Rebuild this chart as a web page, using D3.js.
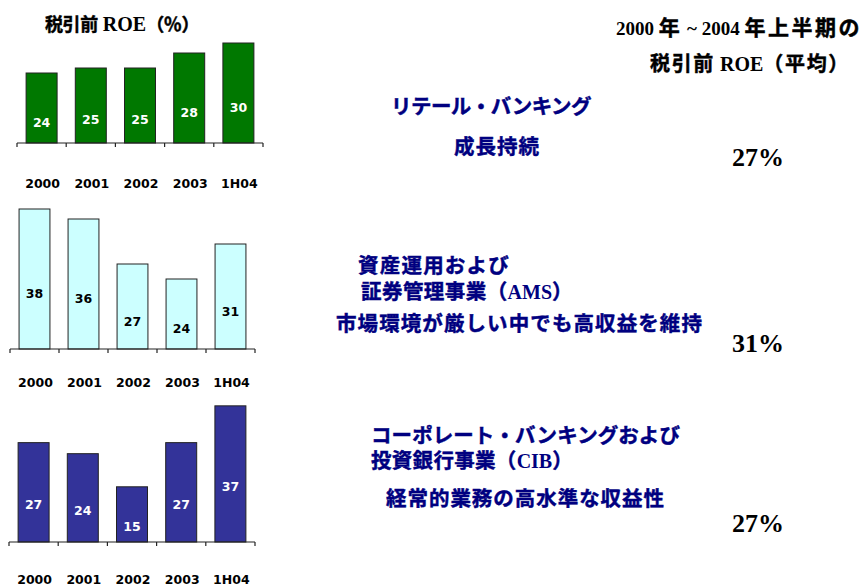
<!DOCTYPE html>
<html>
<head>
<meta charset="utf-8">
<script src="https://cdn.jsdelivr.net/npm/d3@7"></script>
<style>
  body { margin: 0; background: #fff; }
  svg { display: block; }
  .num { font-family: "DejaVu Sans", Verdana, sans-serif; font-weight: bold; }
  .cjk { font-family: "Noto Sans CJK JP", sans-serif; font-weight: bold; }
  .lat { font-family: "Liberation Serif", "Times New Roman", serif; font-weight: bold; }
</style>
</head>
<body>
<svg id="chart" width="864" height="585"></svg>
<script>
// data
var categories = ["2000", "2001", "2002", "2003", "1H04"];
var retailRoe = [24, 25, 25, 28, 30];
var amsRoe = [38, 36, 27, 24, 31];
var cibRoe = [27, 24, 15, 27, 37];
var averageRoe = ["27%", "31%", "27%"];

var chartTitle = "税引前 ROE（％）";
var headerLines = ["2000 年 ~ 2004 年上半期の", "税引前 ROE（平均）"];
var retailText = ["リテール・バンキング", "成長持続"];
var amsText = ["資産運用および", "証券管理事業（AMS）", "市場環境が厳しい中でも高収益を維持"];
var cibText = ["コーポレート・バンキングおよび", "投資銀行事業（CIB）", "経常的業務の高水準な収益性"];

var svg = d3.select("#chart");

// one small bar panel per business line
var panels = [
  {values: retailRoe, x0: 17, x1: 263, axisY: 143, yMin: 10, ppu: 5, fill: "#007800", labelColor: "#fff", catY: 183, labelBase: 171},
  {values: amsRoe, x0: 10, x1: 255, axisY: 349, yMin: 10, ppu: 5, fill: "#ccffff", labelColor: "#000", catY: 382, labelBase: 378},
  {values: cibRoe, x0: 9, x1: 255, axisY: 542, yMin: 0, ppu: 3.68, fill: "#333399", labelColor: "#fff", catY: 579, labelBase: 567}
];

panels.forEach(function(p) {
  var x = d3.scaleBand()
    .domain(categories)
    .range([p.x0, p.x1])
    .paddingInner(0.37)
    .paddingOuter(0.185);
  var y = d3.scaleLinear()
    .domain([p.yMin, 40])
    .range([p.axisY, p.axisY - (40 - p.yMin) * p.ppu]);

  var rows = categories.map(function(c, i) { return {cat: c, v: p.values[i]}; });
  var g = svg.append("g");

  g.selectAll("rect")
    .data(rows)
    .enter().append("rect")
    .attr("x", function(d) { return x(d.cat); })
    .attr("y", function(d) { return y(d.v); })
    .attr("width", x.bandwidth())
    .attr("height", function(d) { return y(p.yMin) - y(d.v); })
    .attr("fill", p.fill)
    .attr("stroke", "#222")
    .attr("stroke-width", 1);

  // axis line with ticks between the bars
  g.append("line")
    .attr("x1", p.x0).attr("x2", p.x1)
    .attr("y1", y(p.yMin)).attr("y2", y(p.yMin))
    .attr("stroke", "#222").attr("stroke-width", 1.2);

  var gap = (x.step() - x.bandwidth()) / 2;
  var bounds = categories.map(function(c) { return x(c) - gap; }).concat([p.x1]);
  g.selectAll("line.tick")
    .data(bounds)
    .enter().append("line")
    .attr("class", "tick")
    .attr("x1", function(d) { return d; }).attr("x2", function(d) { return d; })
    .attr("y1", y(p.yMin)).attr("y2", y(p.yMin) + 4)
    .attr("stroke", "#222").attr("stroke-width", 1.2);

  g.selectAll("text.val")
    .data(rows)
    .enter().append("text")
    .attr("class", "val num")
    .attr("x", function(d) { return x(d.cat) + x.bandwidth() / 2; })
    .attr("y", function(d) { return (y(d.v) + p.labelBase) / 2; })
    .attr("dy", "0.36em")
    .attr("text-anchor", "middle")
    .attr("font-size", "12.5px")
    .attr("fill", p.labelColor)
    .text(function(d) { return d.v; });

  g.selectAll("text.cat")
    .data(rows)
    .enter().append("text")
    .attr("class", "cat num")
    .attr("x", function(d) { return x(d.cat) + x.bandwidth() / 2 + 1; })
    .attr("y", p.catY)
    .attr("dy", "0.36em")
    .attr("text-anchor", "middle")
    .attr("font-size", "12.5px")
    .attr("fill", "#000")
    .text(function(d) { return d.cat; });
});

// mixed Japanese / Latin line: latin runs in serif, the rest in gothic;
// extra width is spread over the Japanese characters only
function addLine(s, x, y, w, o) {
  var t = svg.append("text")
    .attr("x", x)
    .attr("y", y)
    .attr("dy", "0.37em")
    .attr("fill", o.color);
  var runs = s.match(/[\x20-\x7e]+|[^\x20-\x7e]+/g);
  var nCjk = 0;
  runs.forEach(function(r) {
    var latin = /^[\x20-\x7e]/.test(r);
    var ts = t.append("tspan")
      .attr("class", latin ? "lat" : "cjk")
      .attr("font-size", (latin ? o.lat : o.cjk) + "px")
      .text(r);
    if (!latin) {
      ts.attr("stroke", o.color).attr("stroke-width", 0.45);
      nCjk += r.length;
    }
  });
  var natural = t.node().getComputedTextLength();
  var ls = nCjk ? (w - natural) / nCjk : 0;
  t.selectAll("tspan.cjk").attr("letter-spacing", ls + "px");
}

addLine(chartTitle, 45, 25, 154, {color: "#000", cjk: 18, lat: 20});
addLine(headerLines[0], 616, 29, 246, {color: "#000", cjk: 21, lat: 19});
addLine(headerLines[1], 650, 65, 200, {color: "#000", cjk: 20, lat: 20});

var navy = {color: "#000080", cjk: 20.5, lat: 20};
addLine(retailText[0], 391, 108, 200, navy);
addLine(retailText[1], 454, 148, 86, navy);

addLine(amsText[0], 358, 267, 152, navy);
addLine(amsText[1], 361, 293, 212, navy);
addLine(amsText[2], 336, 325, 367, navy);

addLine(cibText[0], 371, 437, 309, navy);
addLine(cibText[1], 371, 462, 202, navy);
addLine(cibText[2], 386, 500, 279, navy);

// averages on the right
var avgY = [157, 343, 523];
svg.selectAll("text.avg")
  .data(averageRoe)
  .enter().append("text")
  .attr("class", "avg lat")
  .attr("x", 758)
  .attr("y", function(d, i) { return avgY[i]; })
  .attr("dy", "0.33em")
  .attr("text-anchor", "middle")
  .attr("font-size", "26px")
  .attr("fill", "#000")
  .text(function(d) { return d; });
</script>
</body>
</html>
